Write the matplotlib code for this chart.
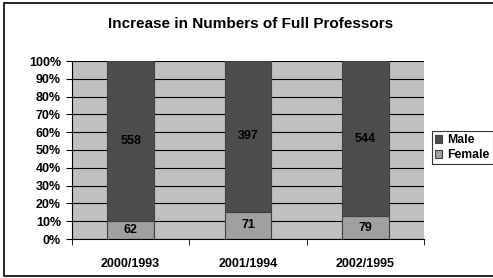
import matplotlib.pyplot as plt
import numpy as np
from matplotlib.ticker import PercentFormatter

plt.rcParams['font.family'] = ['Liberation Sans', 'DejaVu Sans']
plt.rcParams['font.weight'] = 'bold'

categories = ['2000/1993', '2001/1994', '2002/1995']
female = [62, 71, 79]
male = [558, 397, 544]

female = np.array(female)
male = np.array(male)
total = female + male
female_pct = female / total * 100
male_pct = male / total * 100

fig = plt.figure(figsize=(4.93, 2.78), dpi=100)
ax = fig.add_axes([72 / 493, 1 - 239 / 278, 352 / 493, 178 / 278])

x = np.arange(len(categories))
ax.set_facecolor('#c0c0c0')
ax.set_axisbelow(True)
ax.yaxis.grid(True, color='black', linewidth=0.8)

bf = ax.bar(x, female_pct, width=0.4, color='#a0a0a0', edgecolor='#404040', linewidth=0.8, label='Female')
bm = ax.bar(x, male_pct, width=0.4, bottom=female_pct, color='#4d4d4d', edgecolor='#404040', linewidth=0.8, label='Male')

for i in range(len(categories)):
    ax.text(x[i], female_pct[i] / 2, str(female[i]), ha='center', va='center', fontsize=9, fontweight='bold')
    ax.text(x[i], female_pct[i] + male_pct[i] / 2, str(male[i]), ha='center', va='center', fontsize=9, fontweight='bold')

ax.set_xlim(-0.5, 2.5)
ax.set_ylim(0, 100)
ax.set_yticks(np.arange(0, 101, 10))
ax.yaxis.set_major_formatter(PercentFormatter(decimals=0))
ax.set_xticks(x)
ax.set_xticklabels(categories)
ax.set_xticks([-0.5, 0.5, 1.5, 2.5], minor=True)
ax.tick_params(axis='x', which='major', length=0, pad=14, labelsize=9)
ax.tick_params(axis='x', which='minor', length=4, direction='out')
ax.tick_params(axis='y', length=4, direction='out', labelsize=9, pad=4)
for s in ['top', 'right']:
    ax.spines[s].set_visible(False)
ax.spines['left'].set_color('black')
ax.spines['bottom'].set_color('black')

fig.text(251 / 493, 1 - 24 / 278, 'Increase in Numbers of Full Professors',
         ha='center', va='center', fontsize=11, fontweight='bold')

leg = fig.legend(handles=[bm, bf], labels=['Male', 'Female'], loc='upper left',
                 bbox_to_anchor=(432 / 493, 1 - 131 / 278), fontsize=8.8,
                 frameon=True, fancybox=False, edgecolor='black',
                 handlelength=0.6, handleheight=0.6, handletextpad=0.4,
                 borderpad=0.25, labelspacing=0.25, borderaxespad=0)
leg.get_frame().set_linewidth(0.8)

fig.patches.append(plt.Rectangle((4 / 493, 2 / 278), 490 / 493, 273 / 278,
                                 transform=fig.transFigure, fill=False,
                                 edgecolor='black', linewidth=1.2))

fig.savefig('out.png', dpi=100)
